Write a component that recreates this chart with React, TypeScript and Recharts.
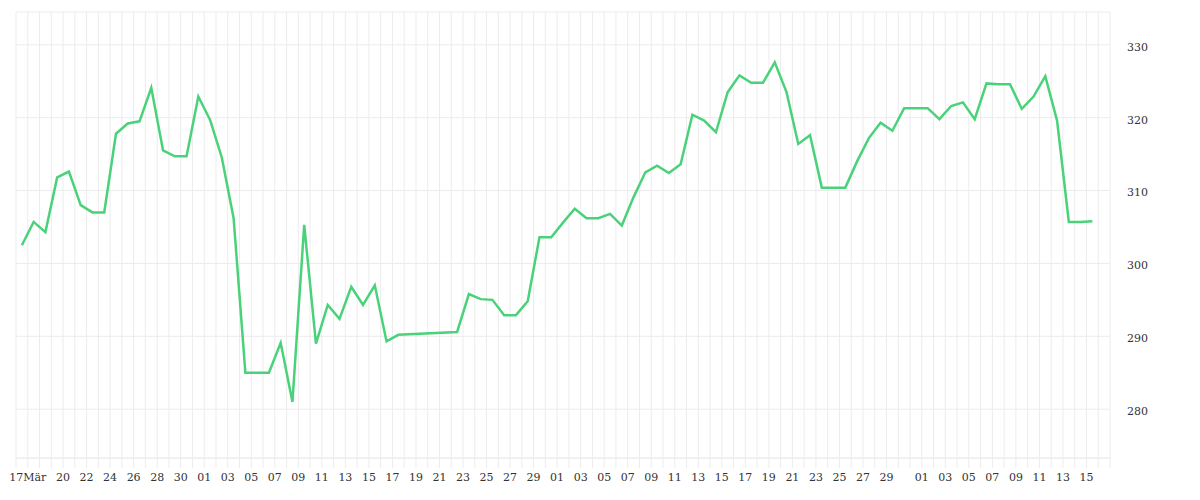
import { LineChart, Line, XAxis, YAxis, CartesianGrid } from "recharts";

const YEAR = 2025;
const DAY = 24 * 60 * 60 * 1000;

// one entry per calendar day
const dates = [
  "03-16", "03-17", "03-18", "03-19", "03-20", "03-21", "03-22", "03-23",
  "03-24", "03-25", "03-26", "03-27", "03-28", "03-29", "03-30", "03-31",
  "04-01", "04-02", "04-03", "04-04", "04-05", "04-06", "04-07", "04-08",
  "04-09", "04-10", "04-11", "04-12", "04-13", "04-14", "04-15", "04-16",
  "04-17", "04-18", "04-19", "04-20", "04-21", "04-22", "04-23", "04-24",
  "04-25", "04-26", "04-27", "04-28", "04-29", "04-30",
  "05-01", "05-02", "05-03", "05-04", "05-05", "05-06", "05-07", "05-08",
  "05-09", "05-10", "05-11", "05-12", "05-13", "05-14", "05-15", "05-16",
  "05-17", "05-18", "05-19", "05-20", "05-21", "05-22", "05-23", "05-24",
  "05-25", "05-26", "05-27", "05-28", "05-29", "05-30", "05-31",
  "06-01", "06-02", "06-03", "06-04", "06-05", "06-06", "06-07", "06-08",
  "06-09", "06-10", "06-11", "06-12", "06-13", "06-14", "06-15",
];

const prices: (number | null)[] = [
  302.5, 305.7, 304.3, 311.8, 312.6, 308.0, 307.0, 307.0,
  317.8, 319.2, 319.5, 324.1, 315.5, 314.7, 314.7, 322.9,
  319.7, 314.5, 306.2, 285.0, 285.0, 285.0, 289.1, 281.0,
  305.3, 289.0, 294.3, 292.4, 296.8, 294.3, 297.0, 289.3,
  290.2, null, null, null, null, 290.6, 295.8, 295.1,
  295.0, 292.9, 292.9, 294.8, 303.6, 303.6,
  305.6, 307.5, 306.2, 306.2, 306.8, 305.2, 309.1, 312.5,
  313.4, 312.4, 313.6, 320.4, 319.6, 318.0, 323.5, 325.8,
  324.8, 324.8, 327.6, 323.5, 316.4, 317.6, 310.4, 310.4,
  310.4, 314.0, 317.2, 319.3, 318.2, 321.3, 321.3,
  321.3, 319.8, 321.6, 322.1, 319.8, 324.7, 324.6, 324.6,
  321.2, 322.9, 325.7, 319.6, 305.7, 305.7, 305.8,
];

const tickDates = [
  "03-17", "03-20", "03-22", "03-24", "03-26", "03-28", "03-30",
  "04-01", "04-03", "04-05", "04-07", "04-09", "04-11", "04-13", "04-15",
  "04-17", "04-19", "04-21", "04-23", "04-25", "04-27", "04-29",
  "05-01", "05-03", "05-05", "05-07", "05-09", "05-11", "05-13", "05-15",
  "05-17", "05-19", "05-21", "05-23", "05-25", "05-27", "05-29",
  "06-01", "06-03", "06-05", "06-07", "06-09", "06-11", "06-13", "06-15",
];

const tickLabels = [
  "17Mär", "20", "22", "24", "26", "28", "30",
  "01", "03", "05", "07", "09", "11", "13", "15",
  "17", "19", "21", "23", "25", "27", "29",
  "01", "03", "05", "07", "09", "11", "13", "15",
  "17", "19", "21", "23", "25", "27", "29",
  "01", "03", "05", "07", "09", "11", "13", "15",
];

const yTicks = [280, 290, 300, 310, 320, 330];

const toTime = (d: string, hour = 0) =>
  Date.UTC(YEAR, Number(d.slice(0, 2)) - 1, Number(d.slice(3, 5)), hour);

// points sit at noon, the grid at midnight
const data = dates.map((d, i) => ({ t: toTime(d, 12), price: prices[i] }));

const xStart = toTime("03-16");
const xEnd = toTime("06-17");
const dayTicks: number[] = [];
for (let t = xStart; t <= xEnd; t += DAY) dayTicks.push(t);

const labelFor = (t: number) => {
  const i = tickDates.findIndex((d) => toTime(d) === t);
  return i >= 0 ? tickLabels[i] : "";
};

const tickStyle = { fill: "#333", fontSize: 11, fontFamily: "DejaVu Serif" };

const App = () => {
  return (
    <LineChart
      width={1184}
      height={484}
      data={data}
      margin={{ top: 4, right: 0, bottom: 0, left: 8 }}
    >
      <CartesianGrid stroke="#ececec" />
      <XAxis
        dataKey="t"
        type="number"
        domain={[xStart, xEnd]}
        ticks={dayTicks}
        interval={0}
        tickFormatter={labelFor}
        height={34}
        tickSize={10}
        tickMargin={5}
        stroke="#ececec"
        tick={tickStyle}
      />
      <YAxis
        orientation="right"
        domain={[273.3, 334.5]}
        ticks={yTicks}
        allowDataOverflow
        width={82}
        axisLine={false}
        tickLine={false}
        tickMargin={11}
        tick={{ ...tickStyle, dy: 2 }}
      />
      <Line
        type="linear"
        dataKey="price"
        stroke="#4ad27a"
        strokeWidth={2.5}
        dot={false}
        connectNulls
        isAnimationActive={false}
      />
    </LineChart>
  );
};

export default App;
